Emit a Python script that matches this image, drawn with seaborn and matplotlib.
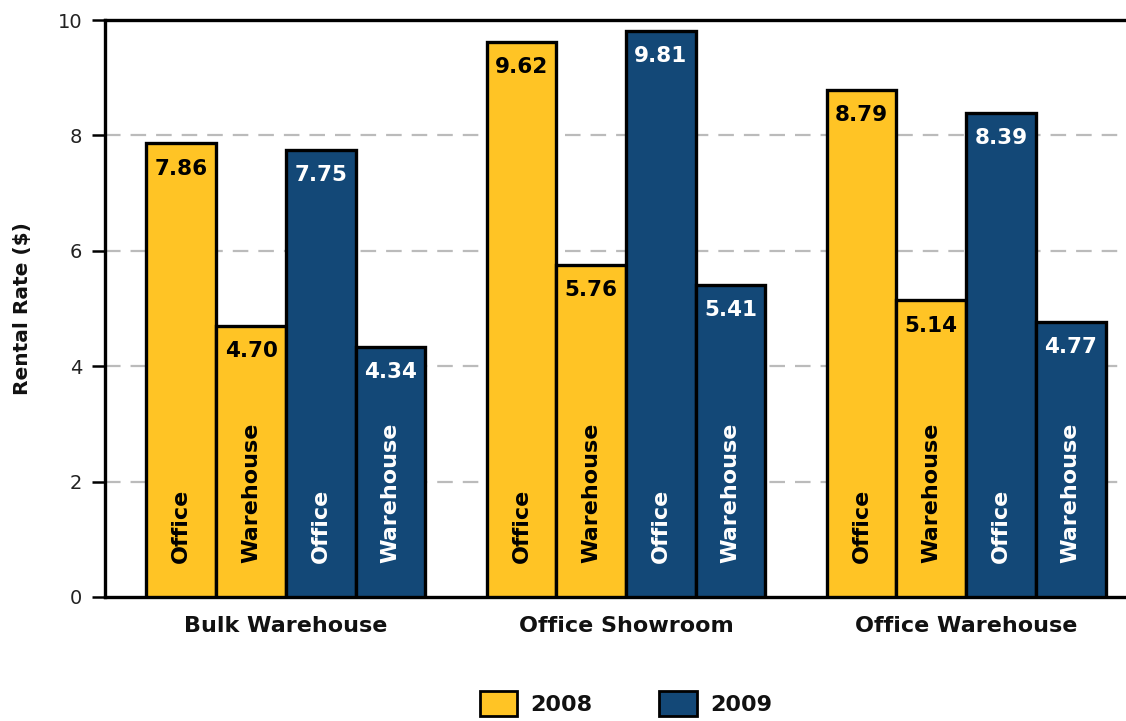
import matplotlib
matplotlib.use("Agg")
import matplotlib.pyplot as plt
import matplotlib.patches as mpatches
import seaborn as sns
import pandas as pd

# Average rental rates by property class, year and space type
groups = ["Bulk Warehouse", "Office Showroom", "Office Warehouse"]
office_2008 = [7.86, 9.62, 8.79]
warehouse_2008 = [4.70, 5.76, 5.14]
office_2009 = [7.75, 9.81, 8.39]
warehouse_2009 = [4.34, 5.41, 4.77]
years = ["2008", "2009"]
space_types = ["Office", "Warehouse"]
y_ticks = [0, 2, 4, 6, 8, 10]

YELLOW = "#FFC425"
NAVY = "#134877"

series = {
    ("2008", "Office"): office_2008,
    ("2008", "Warehouse"): warehouse_2008,
    ("2009", "Office"): office_2009,
    ("2009", "Warehouse"): warehouse_2009,
}
rows = []
for (yr, kind), vals in series.items():
    for g, v in zip(groups, vals):
        rows.append({"group": g, "series": f"{yr} {kind}", "year": yr,
                     "kind": kind, "value": v})
df = pd.DataFrame(rows)
hue_order = [f"{yr} {k}" for yr in years for k in space_types]
palette = {f"2008 {k}": YELLOW for k in space_types}
palette.update({f"2009 {k}": NAVY for k in space_types})

sns.set_theme(style="white")
plt.rcParams["font.family"] = ["DejaVu Sans"]

fig = plt.figure(figsize=(11.26, 7.21), dpi=100)
ax = fig.add_axes([105 / 1126, 124 / 721, (1147 - 105) / 1126, (597 - 20) / 721])

sns.barplot(data=df, x="group", y="value", hue="series", hue_order=hue_order,
            order=groups, palette=palette, width=0.82, edgecolor="black",
            linewidth=2.4, saturation=1, legend=False, ax=ax, zorder=3)

ax.set_xlim(-0.532, 2.532)
ax.set_ylim(0, 10)
ax.set_yticks(y_ticks)
ax.set_yticklabels([str(t) for t in y_ticks], fontsize=14, color="#222222")

for t in y_ticks[1:-1]:
    ax.axhline(t, color="#BBBBBB", linewidth=1.6, linestyle=(0, (7, 4.5)), zorder=0)

for side in ["top", "left", "bottom"]:
    ax.spines[side].set_visible(True)
    ax.spines[side].set_color("black")
    ax.spines[side].set_linewidth(2.4)
ax.spines["right"].set_visible(False)

ax.tick_params(axis="y", which="major", length=9.5, width=1.8, color="black",
               pad=7, left=True)
ax.tick_params(axis="x", length=0, pad=14)
for lbl in ax.get_xticklabels():
    lbl.set_fontsize(16)
    lbl.set_fontweight("bold")
    lbl.set_color("#111111")

ax.set_xlabel("")
ax.set_ylabel("Rental Rate ($)", fontsize=14.5, fontweight="bold", labelpad=18,
              color="#111111")

# Value labels at the top of each bar and space type written up the bar
for name, container in zip(hue_order, ax.containers):
    yr, kind = name.split(" ")
    txt_color = "black" if yr == "2008" else "white"
    for bar in container:
        h = bar.get_height()
        xc = bar.get_x() + bar.get_width() / 2
        ax.annotate(f"{h:.2f}", (xc, h), xytext=(0, -11),
                    textcoords="offset points", ha="center", va="top",
                    fontsize=15.5, fontweight="bold", color=txt_color, zorder=5)
        ax.text(xc, 0.59, kind, rotation=90, ha="center", va="bottom",
                fontsize=16, fontweight="bold", color=txt_color, zorder=5)

handles = [mpatches.Patch(facecolor=YELLOW, edgecolor="black", linewidth=2, label="2008"),
           mpatches.Patch(facecolor=NAVY, edgecolor="black", linewidth=2, label="2009")]
fig.legend(handles=handles, loc="upper center", bbox_to_anchor=(626 / 1126, 50 / 721),
           ncol=2, frameon=False, handlelength=1.67, handleheight=1.35,
           handletextpad=0.6, columnspacing=3.0, labelcolor="#111111",
           prop={"size": 16, "weight": "bold"})

fig.savefig("out.png", dpi=100)
